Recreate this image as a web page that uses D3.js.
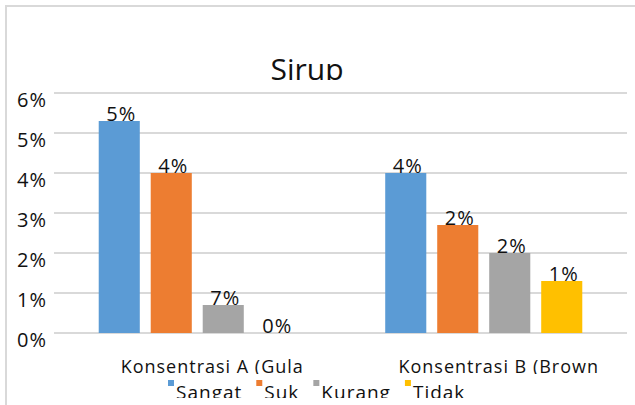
<!DOCTYPE html>
<html>
<head>
<meta charset="utf-8">
<script src="https://cdn.jsdelivr.net/npm/d3@7"></script>
<style>
  body { margin: 0; background: #fff; }
  text { font-family: "Open Sans", sans-serif; fill: #111; }
</style>
</head>
<body>
<div id="chart"></div>
<script>
// Sirup data
const categories = ["Konsentrasi A (Gula", "Konsentrasi B (Brown"];
const seriesNames = ["Sangat", "Suk", "Kurang", "Tidak"];
const sangat = [5.3, 4.0];
const suka = [4.0, 2.7];
const kurang = [0.7, 2.0];
const tidak = [0.0, 1.3];
const sangatLabels = ["5%", "4%"];
const sukaLabels = ["4%", "2%"];
const kurangLabels = ["7%", "2%"];
const tidakLabels = ["0%", "1%"];
const yTicks = [0, 1, 2, 3, 4, 5, 6];
const colors = ["#5B9BD5", "#ED7D31", "#A5A5A5", "#FFC000"];

const seriesValues = [sangat, suka, kurang, tidak];
const seriesLabels = [sangatLabels, sukaLabels, kurangLabels, tidakLabels];

var width = 635,
    height = 405,
    plotLeft = 54,
    plotRight = 627,
    plotTop = 93,
    plotBottom = 333;

var svg = d3.select("#chart")
    .append("svg")
    .attr("width", width)
    .attr("height", height);

var defs = svg.append("defs");
function addClip(id, y2) {
    defs.append("clipPath").attr("id", id)
        .append("rect").attr("x", 0).attr("y", 0)
        .attr("width", width).attr("height", y2);
}
addClip("clipTitle", 80);
addClip("clipCat", 374);
addClip("clipLegend", 398);

// chart border
svg.append("rect")
    .attr("x", 6).attr("y", 6)
    .attr("width", 700).attr("height", 500)
    .attr("fill", "none")
    .attr("stroke", "#D9D9D9")
    .attr("stroke-width", 2);

var y = d3.scaleLinear().domain([0, 6]).range([plotBottom, plotTop]);

var x0 = d3.scaleBand()
    .domain(categories)
    .range([plotLeft, plotRight])
    .padding(0);

var x1 = d3.scaleBand()
    .domain(seriesNames)
    .range([0, x0.bandwidth()])
    .paddingInner(0.21)
    .paddingOuter(0.86);

// gridlines
svg.append("g")
    .selectAll("line")
    .data(yTicks)
    .join("line")
    .attr("x1", plotLeft)
    .attr("x2", plotRight)
    .attr("y1", d => y(d))
    .attr("y2", d => y(d))
    .attr("stroke", "#D9D9D9")
    .attr("stroke-width", 2);

// y tick labels
svg.append("g")
    .selectAll("text")
    .data(yTicks)
    .join("text")
    .attr("x", 47)
    .attr("y", d => y(d) + 14)
    .attr("text-anchor", "end")
    .style("font-size", "20px")
    .style("letter-spacing", "1px")
    .text(d => d + "%");

// title
svg.append("text")
    .attr("x", 307)
    .attr("y", 80)
    .attr("text-anchor", "middle")
    .attr("clip-path", "url(#clipTitle)")
    .style("font-size", "30px")
    .text("Sirup");

// bars and labels
for (let s = 0; s < seriesNames.length; s++) {
    for (let c = 0; c < categories.length; c++) {
        let v = seriesValues[s][c];
        let bx = x0(categories[c]) + x1(seriesNames[s]);
        if (v > 0) {
            svg.append("rect")
                .attr("x", bx)
                .attr("y", y(v))
                .attr("width", x1.bandwidth())
                .attr("height", plotBottom - y(v))
                .attr("fill", colors[s]);
        }
        svg.append("text")
            .attr("x", bx + x1.bandwidth() / 2 + 2)
            .attr("y", y(v))
            .attr("text-anchor", "middle")
            .style("font-size", "20px")
            .style("letter-spacing", "1px")
            .text(seriesLabels[s][c]);
    }
}

// category labels
svg.append("g")
    .attr("clip-path", "url(#clipCat)")
    .selectAll("text")
    .data(categories)
    .join("text")
    .attr("x", d => x0(d) + x0.bandwidth() / 2 + 15)
    .attr("y", 373)
    .attr("text-anchor", "middle")
    .style("font-size", "18px")
    .style("letter-spacing", "1px")
    .text(d => d);

// legend
var legend = svg.append("g").attr("clip-path", "url(#clipLegend)");
var lx = 168;
for (let s = 0; s < seriesNames.length; s++) {
    legend.append("rect")
        .attr("x", lx)
        .attr("y", 380)
        .attr("width", 6)
        .attr("height", 6)
        .attr("fill", colors[s]);
    let t = legend.append("text")
        .attr("x", lx + 8)
        .attr("y", 399)
        .style("font-size", "19px")
        .style("letter-spacing", "1px")
        .text(seriesNames[s]);
    lx += 8 + t.node().getComputedTextLength() + 14;
}
</script>
</body>
</html>
